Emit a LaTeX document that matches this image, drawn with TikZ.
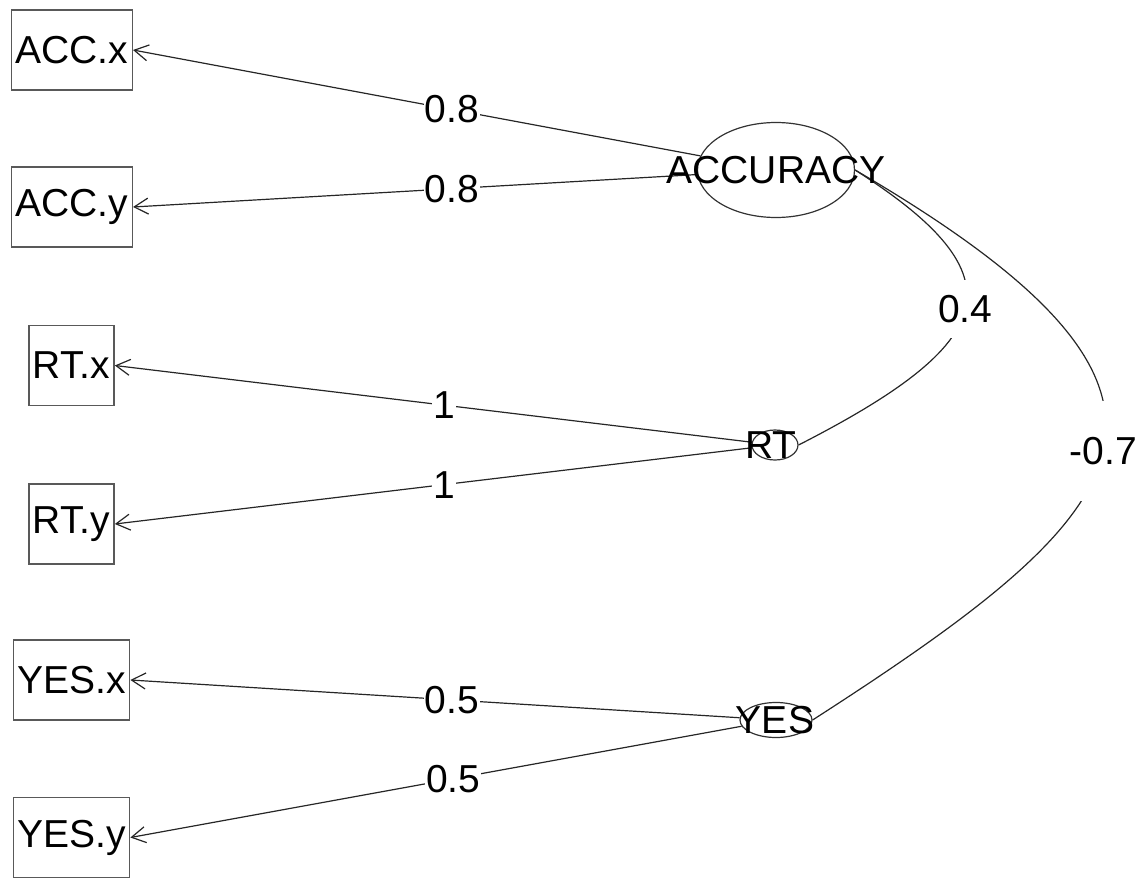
\documentclass[tikz,border=0pt]{standalone}
\usepackage{fontspec}
\setmainfont{Liberation Sans}
\usetikzlibrary{arrows.meta,shapes.geometric}

\begin{document}
\begin{tikzpicture}[x=0.5pt,y=-0.5pt,
    font=\fontsize{19.5}{20}\selectfont,
    manifest/.style={draw=black!65, line width=0.7pt, minimum height=40pt, inner xsep=2pt, inner ysep=0pt},
    latent/.style={ellipse, draw=black!80, line width=0.6pt, inner sep=0pt},
    load/.style={draw=black!85, line width=0.6pt, -{Straight Barb[length=7pt,width=8pt]}},
    cov/.style={draw=black!85, line width=0.6pt},
    elbl/.style={fill=white, inner sep=0.5pt}]
    \useasboundingbox (0,0) rectangle (1147,878);

    \node[manifest] (accx) at (72,50) {ACC.x};
    \node[manifest] (accy) at (72,207) {ACC.y};
    \node[manifest] (rtx) at (71.5,365.5) {RT.x};
    \node[manifest] (rty) at (71.5,524) {RT.y};
    \node[manifest] (yesx) at (71.5,680) {YES.x};
    \node[manifest] (yesy) at (71.5,837.5) {YES.y};

    \node[latent, minimum width=78.5pt, minimum height=47.5pt] (acc) at (776,170) {};
    \node[latent, minimum width=23pt, minimum height=15pt] (rt) at (775,445) {};
    \node[latent, minimum width=36pt, minimum height=17.5pt] (yes) at (776,720) {};

    \draw[load] (acc) -- (accx.east) node[elbl, pos=0.438] (l1) {0.8};
    \draw[load] (acc) -- (accy.east) node[elbl, pos=0.435] (l2) {0.8};
    \draw[load] (rt) -- (rtx.east) node[elbl, pos=0.483] (l3) {1};
    \draw[load] (rt) -- (rty.east) node[elbl, pos=0.483] (l4) {1};
    \draw[load] (yes) -- (yesx.east) node[elbl, pos=0.472] (l5) {0.5};
    \draw[load] (yes) -- (yesy.east) node[elbl, pos=0.472] (l6) {0.5};

    \draw[cov] (acc.east) .. controls (1023,277) and (1000,342) .. (rt.east)
        node[elbl, pos=0.5, inner xsep=2pt, minimum height=29pt] (c1) {0.4};
    \draw[cov] (acc.east) .. controls (1244,397) and (1142,508) .. (yes.east)
        node[elbl, pos=0.5, inner xsep=2pt, minimum height=50pt] (c2) {-0.7};

    \node (accl) at (acc) {ACCURACY};
    \node (rtl) at (771,445) {RT};
    \node (yesl) at (775,720) {YES};
\end{tikzpicture}
\end{document}
